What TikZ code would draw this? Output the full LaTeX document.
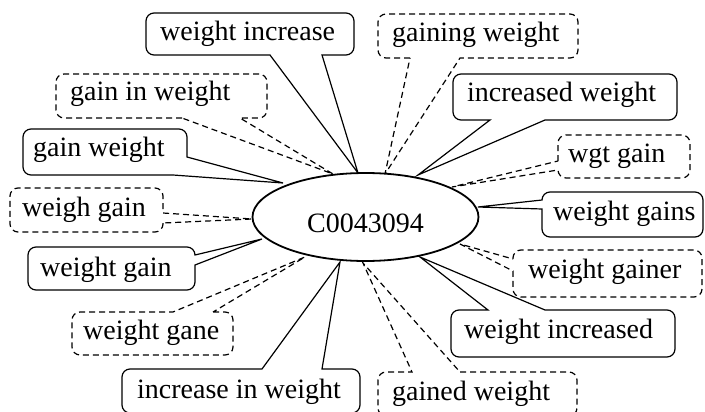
\documentclass[tikz,border=0pt]{standalone}
\usepackage{fontspec}
\setmainfont{Liberation Serif}
\usetikzlibrary{shapes.geometric}
\begin{document}
\begin{tikzpicture}[x=1pt,y=-1pt,
  callout/.style={draw=black, line width=1.2pt, fill=white, line join=miter, rounded corners=8pt},
  dashedcallout/.style={callout, dash pattern=on 6pt off 4pt},
  lbl/.style={font=\fontsize{28}{33}\selectfont, inner sep=0pt, anchor=base west},
  concept/.style={ellipse, draw, line width=1.8pt, fill=white, minimum width=226pt, minimum height=88pt, inner sep=0pt, font=\fontsize{28}{33}\selectfont, text height=30pt, text depth=0pt}]
\useasboundingbox (0,0) rectangle (705,412);
\clip (0,0) rectangle (705,412);

% tips on the ellipse
\coordinate (t1) at (358,173);
\coordinate (t2) at (333,174);
\coordinate (t3) at (283,183);
\coordinate (t4) at (252,219);
\coordinate (t5) at (262,239);
\coordinate (t6) at (305,257);
\coordinate (t7) at (340,262);
\coordinate (t8) at (363,263);
\coordinate (t9) at (420,257);
\coordinate (t10) at (460,244);
\coordinate (t11) at (478,207);
\coordinate (t12) at (452,187);
\coordinate (t13) at (418,175);
\coordinate (t14) at (385,174);

% weight increase
\draw[callout] (270,55) -- (146,55) -- (146,13) -- (354,13) -- (354,55) [sharp corners] -- (322,55) -- (t1) -- cycle;
\node[lbl] (n1) at (160,41) {weight increase};

% gain in weight
\draw[dashedcallout] (182,118) -- (56,118) -- (56,74) -- (267,74) -- (267,118) [sharp corners] -- (240,118) -- (t2) -- cycle;
\node[lbl] (n2) at (70,101) {gain in weight};

% gain weight
\draw[callout] (173,175) -- (23,175) -- (23,129) -- (187,129) [sharp corners] -- (187,157) -- (t3) -- cycle;
\node[lbl] (n3) at (33,157) {gain weight};

% weigh gain
\draw[dashedcallout] (163,223) -- (163,232) -- (10,232) -- (10,188) -- (163,188) [sharp corners] -- (163,213) -- (t4) -- cycle;
\node[lbl] (n4) at (22,216) {weigh gain};

% weight gain
\draw[callout] (195,265) -- (195,290) -- (28,290) -- (28,247) -- (195,247) [sharp corners] -- (195,255) -- (t5) -- cycle;
\node[lbl] (n5) at (40,276) {weight gain};

% weight gane
\draw[dashedcallout] (213,312) -- (233,312) -- (233,355) -- (72,355) -- (72,312) [sharp corners] -- (173,312) -- (t6) -- cycle;
\node[lbl] (n6) at (83,339) {weight gane};

% increase in weight
\draw[callout] (322,369) -- (360,369) -- (360,413) -- (122,413) -- (122,369) [sharp corners] -- (262,369) -- (t7) -- cycle;
\node[lbl] (n7) at (137,398) {increase in weight};

% gained weight
\draw[dashedcallout] (460,372) -- (577,372) -- (577,416) -- (378,416) -- (378,372) [sharp corners] -- (412,372) -- (t8) -- cycle;
\node[lbl] (n8) at (392,400) {gained weight};

% weight increased
\draw[callout] (545,310) -- (675,310) -- (675,357) -- (451,357) -- (451,310) [sharp corners] -- (488,310) -- (t9) -- cycle;
\node[lbl] (n9) at (464,338) {weight increased};

% weight gainer
\draw[dashedcallout] (513,259) -- (513,250) -- (702,250) -- (702,297) -- (513,297) [sharp corners] -- (513,271) -- (t10) -- cycle;
\node[lbl] (n10) at (528,278) {weight gainer};

% weight gains
\draw[callout] (542,200) -- (542,192) -- (703,192) -- (703,237) -- (542,237) [sharp corners] -- (542,209) -- (t11) -- cycle;
\node[lbl] (n11) at (553,220) {weight gains};

% wgt gain
\draw[dashedcallout] (558,161) -- (558,135) -- (690,135) -- (690,178) -- (558,178) [sharp corners] -- (558,170) -- (t12) -- cycle;
\node[lbl] (n12) at (568,162) {wgt gain};

% increased weight
\draw[callout] (490,120) -- (453,120) -- (453,74) -- (677,74) -- (677,120) [sharp corners] -- (545,120) -- (t13) -- cycle;
\node[lbl] (n13) at (467,102) {increased weight};

% gaining weight
\draw[dashedcallout] (410,58) -- (378,58) -- (378,14) -- (578,14) -- (578,58) [sharp corners] -- (460,58) -- (t14) -- cycle;
\node[lbl] (n14) at (392,42) {gaining weight};

% central concept
\node[concept] (c) at (365.5,217) {C0043094};
\end{tikzpicture}
\end{document}
